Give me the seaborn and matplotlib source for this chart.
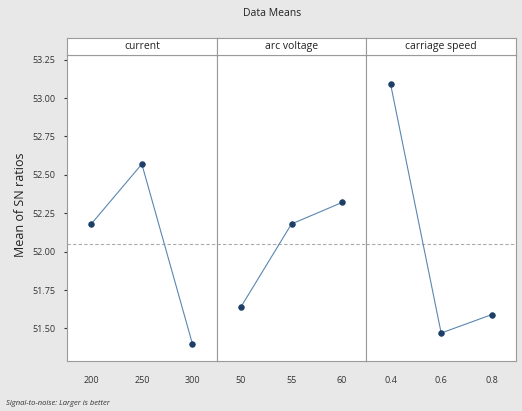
import matplotlib
matplotlib.use("Agg")
import matplotlib.pyplot as plt
import seaborn as sns
import pandas as pd

# valores (Main Effects Plot for SN ratios)
factors = ["current", "arc voltage", "carriage speed"]
levels = [["200", "250", "300"], ["50", "55", "60"], ["0.4", "0.6", "0.8"]]
sn_means = [[52.18, 52.57, 51.40],
            [51.64, 52.18, 52.32],
            [53.09, 51.47, 51.59]]
grand_mean = 52.05
yticks = [51.50, 51.75, 52.00, 52.25, 52.50, 52.75, 53.00, 53.25]
ytick_labels = ["51.50", "51.75", "52.00", "52.25", "52.50", "52.75", "53.00", "53.25"]

rows = []
for f, lv, vals in zip(factors, levels, sn_means):
    for l, v in zip(lv, vals):
        rows.append({"factor": f, "level": l, "sn": v})
df = pd.DataFrame(rows)

sns.set_style("white")
plt.rcParams["font.family"] = ["Open Sans", "DejaVu Sans"]

W, H = 522, 411
fig = plt.figure(figsize=(W / 100, H / 100), dpi=100)
fig.patch.set_facecolor("#e8e8e8")

left, right = 67, 516
top, bottom = 55, 361
strip_top = 38
pw = (right - left) / 3

line_c = "#5a86b3"
mark_c = "#1d3f66"
edge_c = "#9a9a9a"

for i, f in enumerate(factors):
    x0 = left + i * pw
    ax = fig.add_axes([x0 / W, 1 - bottom / H, pw / W, (bottom - top) / H])
    ax.set_facecolor("white")
    sub = df[df["factor"] == f]
    sns.pointplot(data=sub, x="level", y="sn", order=levels[i], ax=ax,
                  color=line_c, markers="o", linestyles="-",
                  linewidth=0.8, markersize=4, errorbar=None)
    for ln in ax.lines:
        ln.set_markerfacecolor(mark_c)
        ln.set_markeredgecolor(mark_c)
    for c in ax.collections:
        c.set_facecolor(mark_c)
        c.set_edgecolor(mark_c)
    ax.axhline(grand_mean, color="#aaaaaa", lw=0.8, ls=(0, (3, 2)), zorder=0)
    ax.set_xlim(-0.48, 2.48)
    ax.set_ylim(51.288, 53.28)
    ax.set_xlabel("")
    ax.set_ylabel("")
    ax.tick_params(axis="x", labelsize=6.5, colors="#333333", length=2.5, pad=8)
    for s in ax.spines.values():
        s.set_color(edge_c)
        s.set_linewidth(0.8)
    if i == 0:
        ax.set_yticks(yticks)
        ax.set_yticklabels(ytick_labels)
        ax.tick_params(axis="y", labelsize=6.5, colors="#333333", length=2.5,
                       left=True, pad=6)
    else:
        ax.set_yticks([])

    # franja con el nombre del factor
    sax = fig.add_axes([x0 / W, 1 - top / H, pw / W, (top - strip_top) / H])
    sax.set_facecolor("white")
    sax.set_xticks([])
    sax.set_yticks([])
    for s in sax.spines.values():
        s.set_color(edge_c)
        s.set_linewidth(0.8)
    sax.text(0.5, 0.5, f, ha="center", va="center", fontsize=7.5,
             color="#222222", transform=sax.transAxes)

fig.text(272 / W, 1 - 14 / H, "Data Means", ha="center", va="center",
         fontsize=7.5, color="#222222")
fig.text(21 / W, 1 - 205 / H, "Mean of SN ratios", ha="center", va="center",
         rotation=90, fontsize=9, color="#222222")
fig.text(6 / W, 1 - 403 / H, "Signal-to-noise: Larger is better", ha="left",
         va="center", fontsize=5.5, style="italic", color="#333333")

fig.savefig("out.png", dpi=100, facecolor=fig.get_facecolor())
